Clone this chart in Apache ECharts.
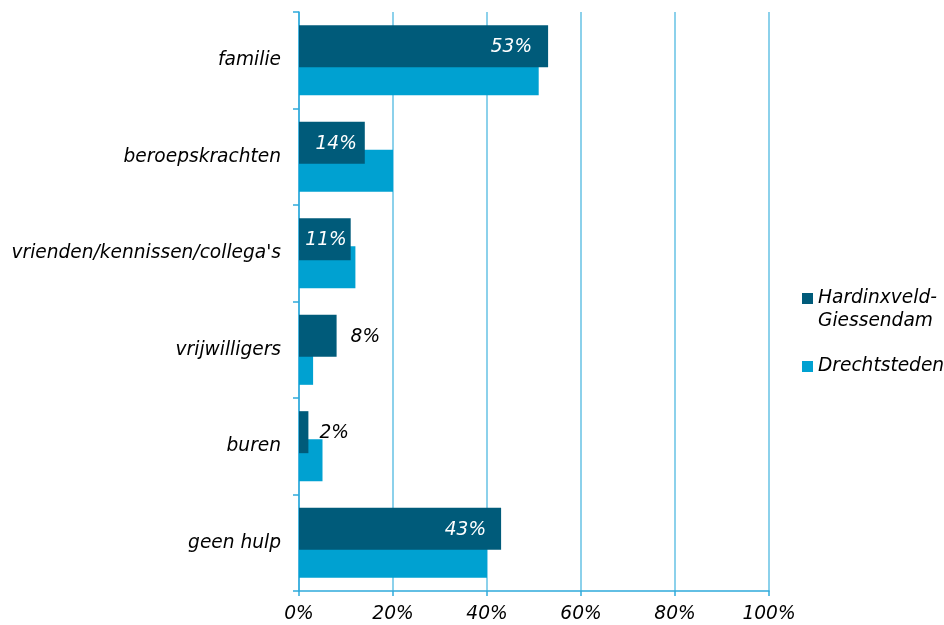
<!DOCTYPE html>
<html>
<head>
<meta charset="utf-8">
<script src="https://cdn.jsdelivr.net/npm/echarts@6/dist/echarts.min.js"></script>
<style>html,body{margin:0;padding:0;background:#fff}#c{width:944px;height:625px}</style>
</head>
<body>
<div id="c"></div>
<script>
const categories = ["familie", "beroepskrachten", "vrienden/kennissen/collega's", "vrijwilligers", "buren", "geen hulp"];
const seriesNames = ["Hardinxveld-Giessendam", "Drechtsteden"];
const hardinxveld = [53, 14, 11, 8, 2, 43];
const drechtsteden = [51, 20, 12, 3, 5, 40];
const xTicks = [0, 20, 40, 60, 80, 100];

const FONT = 'DejaVu Sans';
const AXC = '#2FAADB';
const GRIDC = '#66C2E4';
const DARK = '#005B7A';
const LIGHT = '#00A1D1';
const FS = 18.6;

// label placement: inside the bar end (white) or right of it (black)
const labelPlace = [
  { position: 'insideRight', distance: 16, color: '#fff' },
  { position: 'insideRight', distance: 8, color: '#fff' },
  { position: 'insideRight', distance: 4, color: '#fff' },
  { position: 'right', distance: 14, color: '#000' },
  { position: 'right', distance: 11, color: '#000' },
  { position: 'insideRight', distance: 15, color: '#fff' }
];
const hgData = hardinxveld.map((v, i) => ({ value: v, label: labelPlace[i] }));

const chart = echarts.init(document.getElementById('c'), null, { renderer: 'canvas' });
chart.setOption({
  animation: false,
  textStyle: { fontFamily: FONT },
  grid: { left: 299, right: 175, top: 12, bottom: 34, containLabel: false },
  xAxis: {
    type: 'value', min: xTicks[0], max: xTicks[xTicks.length - 1], interval: 20,
    axisLine: { show: true, lineStyle: { color: AXC, width: 1.5 } },
    axisTick: { show: true, length: 5, lineStyle: { color: AXC, width: 1.5 } },
    splitLine: { show: true, lineStyle: { color: GRIDC, width: 1.5 } },
    axisLabel: { formatter: v => v + '%', color: '#000', fontStyle: 'italic', fontSize: FS, fontFamily: FONT, margin: 14 }
  },
  yAxis: {
    type: 'category', data: categories, inverse: true,
    axisLine: { show: true, lineStyle: { color: AXC, width: 1.5 } },
    axisTick: { show: true, length: 6, lineStyle: { color: AXC, width: 1.5 } },
    splitLine: { show: false },
    axisLabel: { color: '#000', fontStyle: 'italic', fontSize: FS, fontFamily: FONT, margin: 18, padding: [4, 0, 0, 0] }
  },
  legend: {
    orient: 'vertical', left: 802, top: 264, itemWidth: 11, itemHeight: 11, itemGap: 22,
    padding: 0,
    icon: 'rect',
    textStyle: { color: '#000', fontStyle: 'italic', fontSize: FS, fontFamily: FONT, lineHeight: 23 },
    data: seriesNames,
    formatter: n => n === seriesNames[0] ? ' \nHardinxveld-\nGiessendam' : n
  },
  series: [
    {
      name: seriesNames[0], type: 'bar', data: hgData, barWidth: 42, barGap: '-33%', z: 3,
      itemStyle: { color: DARK },
      label: { show: true, formatter: '{c}%', fontStyle: 'italic', fontSize: FS, fontFamily: FONT, offset: [0, 1] }
    },
    {
      name: seriesNames[1], type: 'bar', data: drechtsteden, barWidth: 42, barGap: '-33%', z: 2,
      itemStyle: { color: LIGHT }
    }
  ]
});
</script>
</body>
</html>
